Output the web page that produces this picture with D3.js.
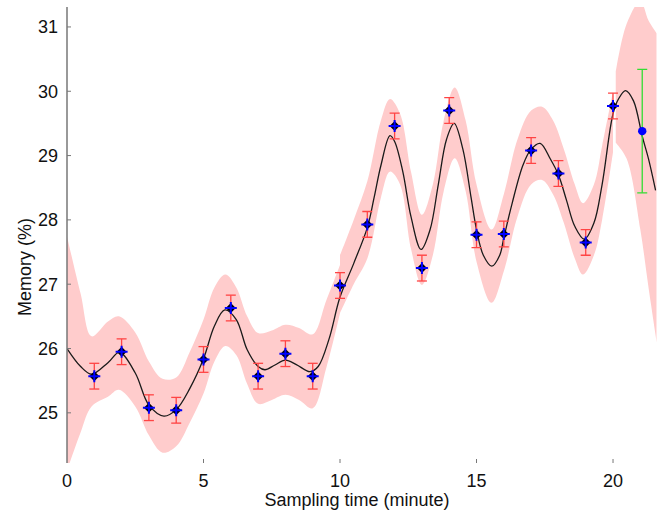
<!DOCTYPE html>
<html>
<head>
<meta charset="utf-8">
<script src="https://cdn.jsdelivr.net/npm/d3@7/dist/d3.min.js"></script>
<style>
  body { margin: 0; background: #fff; }
  text { font-family: "Liberation Sans", Arial, sans-serif; fill: #111; }
</style>
</head>
<body>
<svg id="chart" width="667" height="518"></svg>
<script>
// measured samples
var sampleTime = [1, 2, 3, 4, 5, 6, 7, 8, 9, 10, 11, 12, 13, 14, 15, 16, 17, 18, 19, 20];
var sampleMem  = [25.57, 25.95, 25.08, 25.04, 25.83, 26.63, 25.57, 25.92, 25.57, 26.98,
                  27.93, 29.46, 27.25, 29.70, 27.77, 27.78, 29.08, 28.72, 27.65, 29.77];
var sampleErr  = [0.2, 0.2, 0.2, 0.2, 0.2, 0.2, 0.2, 0.2, 0.2, 0.2,
                  0.2, 0.2, 0.2, 0.2, 0.2, 0.2, 0.2, 0.2, 0.2, 0.2];

// predicted point
var predTime = 21.07, predMem = 29.38, predErr = 0.96;

// fitted mean curve [time, memory]
var meanCurve = [
  [0, 26.00], [0.5, 25.72], [0.9, 25.60], [1.5, 25.78], [1.92, 25.94], [2.5, 25.62],
  [3.0, 25.12], [3.55, 24.95], [4.0, 25.05], [4.5, 25.38], [5.0, 25.84], [5.4, 26.35],
  [5.78, 26.60], [6.2, 26.45], [6.6, 25.98], [7.0, 25.72], [7.25, 25.67], [7.6, 25.74],
  [8.0, 25.82], [8.4, 25.75], [8.9, 25.64], [9.2, 25.72], [9.6, 26.15], [10.0, 26.80],
  [10.5, 27.32], [11.0, 27.88], [11.25, 28.35], [11.5, 28.85], [11.83, 29.31], [12.0, 29.22],
  [12.3, 28.75], [12.6, 28.05], [12.97, 27.54], [13.3, 27.85], [13.6, 28.55], [13.9, 29.25],
  [14.18, 29.50], [14.5, 29.10], [14.8, 28.35], [15.0, 27.85], [15.25, 27.45], [15.56, 27.28],
  [15.85, 27.45], [16.0, 27.72], [16.3, 28.25], [16.7, 28.85], [17.0, 29.10], [17.33, 29.19],
  [17.7, 28.95], [18.0, 28.70], [18.3, 28.30], [18.6, 27.90], [18.95, 27.70], [19.3, 27.95],
  [19.6, 28.55], [20.0, 29.65], [20.2, 29.88], [20.46, 30.01], [20.75, 29.85], [21.07, 29.30],
  [21.3, 28.95], [21.56, 28.46]
];

// confidence band pieces [time, upper, lower]
var bandA = [
  [0, 27.74, 24.10], [0.5, 26.85, 24.70], [0.9, 26.19, 25.10], [1.5, 26.42, 25.25],
  [1.9, 26.50, 25.36], [2.5, 26.25, 25.10], [3.0, 25.80, 24.65], [3.5, 25.53, 24.38],
  [4.0, 25.55, 24.48], [4.5, 25.95, 24.85], [5.0, 26.45, 25.30], [5.4, 26.95, 25.80],
  [5.8, 27.15, 26.04], [6.2, 26.95, 25.90], [6.6, 26.50, 25.45], [7.0, 26.24, 25.14],
  [7.5, 26.28, 25.20], [8.0, 26.37, 25.28], [8.5, 26.32, 25.20], [9.0, 26.22, 25.07],
  [9.5, 26.75, 25.70], [10.0, 27.30, 26.55]
];
var bandB = [
  [10.0, 27.45, 26.55], [10.5, 28.00, 27.00], [11.0, 28.60, 27.40], [11.5, 29.55, 28.35],
  [11.83, 29.88, 28.75], [12.2, 29.65, 28.55], [12.6, 28.75, 27.55], [13.0, 28.08, 26.99],
  [13.4, 28.55, 27.45], [13.8, 29.55, 28.45], [14.2, 30.06, 28.96], [14.6, 29.55, 28.45],
  [15.0, 28.55, 27.35], [15.55, 27.85, 26.71], [16.0, 28.40, 27.20], [16.5, 29.25, 28.05],
  [17.0, 29.70, 28.55], [17.4, 29.76, 28.62], [17.8, 29.55, 28.40], [18.2, 29.10, 27.95],
  [18.6, 28.55, 27.40], [18.9, 28.26, 27.15], [19.3, 28.55, 27.45], [19.6, 29.15, 28.00],
  [20.0, 30.00, 29.05]
];
var bandC = [
  [20.1, 30.30, 29.20], [20.5, 31.05, 28.95], [21.0, 31.40, 27.85], [21.3, 31.10, 26.95],
  [21.6, 30.90, 26.10]
];

var xTicks = [0, 5, 10, 15, 20];
var yTicks = [25, 26, 27, 28, 29, 30, 31];

var svg = d3.select("#chart");

var x = d3.scaleLinear().domain([0, 21.6]).range([67, 656.7]);
var y = d3.scaleLinear().domain([24.22, 31.31]).range([463, 7]);

svg.append("defs").append("clipPath")
  .attr("id", "plotclip")
  .append("rect")
    .attr("x", 67).attr("y", 7)
    .attr("width", 656.7 - 67).attr("height", 463 - 7);

var plot = svg.append("g").attr("clip-path", "url(#plotclip)");

var band = d3.area()
  .x(function(d) { return x(d[0]); })
  .y0(function(d) { return y(d[2]); })
  .y1(function(d) { return y(d[1]); })
  .curve(d3.curveCatmullRom);

plot.selectAll("path.band")
  .data([bandA, bandB, bandC])
  .enter().append("path")
    .attr("class", "band")
    .attr("d", band)
    .attr("fill", "#ffcccc");

var line = d3.line()
  .x(function(d) { return x(d[0]); })
  .y(function(d) { return y(d[1]); })
  .curve(d3.curveCatmullRom);

plot.append("path")
  .datum(meanCurve)
  .attr("d", line)
  .attr("fill", "none")
  .attr("stroke", "#1a1a1a")
  .attr("stroke-width", 1.3);

// error bars
var samples = sampleTime.map(function(t, i) {
  return {t: t, v: sampleMem[i], e: sampleErr[i]};
});

var bars = plot.append("g")
  .attr("stroke", "#ff4444")
  .attr("stroke-width", 1.3)
  .selectAll("g")
  .data(samples)
  .enter().append("g");

bars.append("line")
  .attr("x1", function(d) { return x(d.t); })
  .attr("x2", function(d) { return x(d.t); })
  .attr("y1", function(d) { return y(d.v - d.e); })
  .attr("y2", function(d) { return y(d.v + d.e); });
bars.append("line")
  .attr("x1", function(d) { return x(d.t) - 5; })
  .attr("x2", function(d) { return x(d.t) + 5; })
  .attr("y1", function(d) { return y(d.v + d.e); })
  .attr("y2", function(d) { return y(d.v + d.e); });
bars.append("line")
  .attr("x1", function(d) { return x(d.t) - 5; })
  .attr("x2", function(d) { return x(d.t) + 5; })
  .attr("y1", function(d) { return y(d.v - d.e); })
  .attr("y2", function(d) { return y(d.v - d.e); });

// markers: black diamond with blue plus
var marks = plot.append("g").selectAll("g")
  .data(samples)
  .enter().append("g")
    .attr("transform", function(d) { return "translate(" + x(d.t) + "," + y(d.v) + ")"; });

marks.append("path")
  .attr("d", "M0,-5L5,0L0,5L-5,0Z")
  .attr("fill", "#000");
marks.append("path")
  .attr("d", "M-6,0H6M0,-6V6")
  .attr("stroke", "#0000ff")
  .attr("stroke-width", 2);

// prediction with green error bar
var pred = plot.append("g").attr("stroke", "#33dd33").attr("stroke-width", 1.3);
pred.append("line")
  .attr("x1", x(predTime)).attr("x2", x(predTime))
  .attr("y1", y(predMem - predErr)).attr("y2", y(predMem + predErr));
pred.append("line")
  .attr("x1", x(predTime) - 5).attr("x2", x(predTime) + 5)
  .attr("y1", y(predMem + predErr)).attr("y2", y(predMem + predErr));
pred.append("line")
  .attr("x1", x(predTime) - 5).attr("x2", x(predTime) + 5)
  .attr("y1", y(predMem - predErr)).attr("y2", y(predMem - predErr));
plot.append("circle")
  .attr("cx", x(predTime)).attr("cy", y(predMem))
  .attr("r", 4.2)
  .attr("fill", "#0000ff");

// y axis
svg.append("line")
  .attr("x1", 67).attr("x2", 67)
  .attr("y1", 7).attr("y2", 463)
  .attr("stroke", "#777")
  .attr("stroke-width", 1.5);

svg.append("g").selectAll("line")
  .data(yTicks)
  .enter().append("line")
    .attr("x1", 67).attr("x2", 71)
    .attr("y1", function(d) { return y(d); })
    .attr("y2", function(d) { return y(d); })
    .attr("stroke", "#777");

svg.append("g").selectAll("text")
  .data(yTicks)
  .enter().append("text")
    .attr("x", 58)
    .attr("y", function(d) { return y(d) + 6.5; })
    .attr("text-anchor", "end")
    .attr("font-size", 18)
    .text(function(d) { return d; });

// x ticks (no axis line)
svg.append("g").selectAll("line")
  .data(xTicks.slice(1))
  .enter().append("line")
    .attr("x1", function(d) { return x(d); })
    .attr("x2", function(d) { return x(d); })
    .attr("y1", 459).attr("y2", 463)
    .attr("stroke", "#777");

svg.append("g").selectAll("text")
  .data(xTicks)
  .enter().append("text")
    .attr("x", function(d) { return x(d); })
    .attr("y", 487)
    .attr("text-anchor", "middle")
    .attr("font-size", 18)
    .text(function(d) { return d; });

svg.append("text")
  .attr("x", 357)
  .attr("y", 506)
  .attr("text-anchor", "middle")
  .attr("font-size", 18)
  .text("Sampling time (minute)");

svg.append("text")
  .attr("transform", "translate(31,267) rotate(-90)")
  .attr("text-anchor", "middle")
  .attr("font-size", 18)
  .text("Memory (%)");
</script>
</body>
</html>
